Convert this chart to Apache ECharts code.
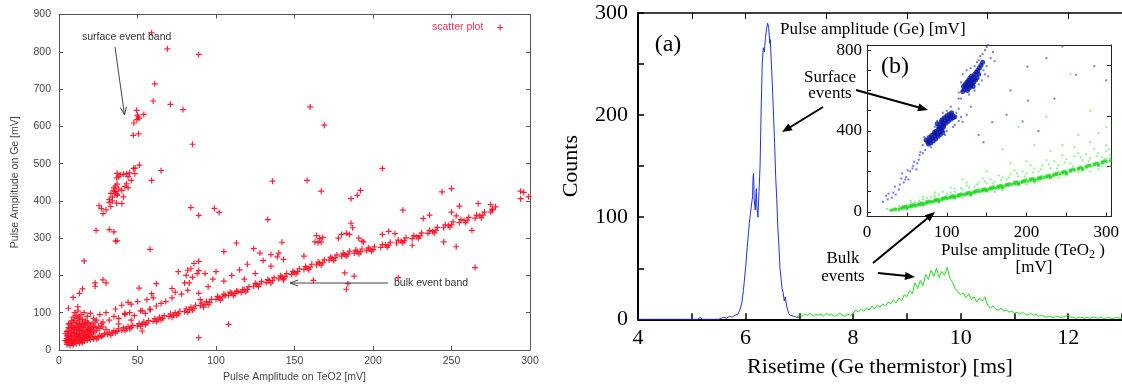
<!DOCTYPE html>
<html><head><meta charset="utf-8">
<script src="https://cdn.jsdelivr.net/npm/echarts@6/dist/echarts.min.js"></script>
<style>html,body{margin:0;padding:0;background:#fff}#c{width:1122px;height:388px}</style>
</head><body><div id="c"></div>
<script>
// ---------- LEFT PANEL: scatter (Pulse amplitude Ge vs TeO2) ----------
const leftXTicks = [0, 50, 100, 150, 200, 250, 300];
const leftYTicks = [0, 100, 200, 300, 400, 500, 600, 700, 800, 900];
const bulkBand = [[8,20],[9,14],[10,22],[11,17],[12,25],[13,19],[14,22],[15,28],[16,24],[17,31],[18,26],[19,33],[20,28],[21,35],[22,30],[23,36],[25,33],[26,40],[28,38],[29,44],[31,42],[32,48],[34,45],[35,52],[37,50],[38,57],[40,53],[41,60],[43,57],[44,63],[46,60],[47,66],[50,64],[51,71],[53,69],[54,75],[56,72],[57,79],[60,77],[61,84],[63,81],[64,88],[66,85],[67,92],[70,90],[71,97],[73,93],[74,100],[76,97],[77,104],[80,103],[81,110],[83,108],[84,115],[86,112],[87,120],[90,119],[91,126],[93,122],[94,130],[96,128],[97,136],[100,136],[101,144],[104,142],[105,150],[108,147],[109,155],[112,151],[113,158],[116,154],[117,162],[120,162],[121,170],[124,171],[125,179],[128,177],[129,184],[132,181],[133,189],[136,186],[137,194],[140,191],[141,199],[144,197],[145,205],[148,203],[149,211],[152,210],[153,218],[156,216],[157,224],[160,222],[161,230],[164,228],[165,236],[168,234],[169,242],[172,241],[173,249],[176,247],[177,255],[180,252],[181,260],[184,257],[185,265],[188,260],[189,268],[192,263],[193,271],[196,266],[197,274],[200,269],[201,277],[205,275],[206,283],[210,281],[211,289],[215,287],[216,295],[220,293],[221,301],[225,299],[226,307],[230,306],[231,314],[235,313],[236,321],[240,321],[241,329],[245,328],[246,336],[250,336],[251,344],[255,342],[256,350],[260,348],[261,356],[265,354],[266,362],[270,362],[271,370],[275,370],[276,378],[278,384],
 [102,140],[106,146],[110,152],[114,157],[118,162],[126,176],[134,186],[142,196],[150,208],[158,220],[166,233],[174,246],[182,256],[190,264],[198,271],[208,282],[218,292],[228,304],[238,318],[248,334],[258,348],[268,360],
 [103,134],[111,146],[119,156],[127,170],[135,180],[143,192],[151,204],[159,216],[167,228],[175,240],[183,252],[191,258],[199,265],[209,276],[219,288],[229,300],[239,314],[249,330],[259,342],[269,355],
 [15,20],[24,30],[33,40],[42,52],[52,64],[62,76],[72,88],[82,101],[92,115],[27,36],[36,46],[45,57],[55,68],[65,81],[75,93],[85,107],[95,121]];
const lowCluster = [[5,15],[6,20],[7,12],[8,25],[5,30],[6,40],[7,35],[8,50],[9,45],[10,60],[11,55],[12,70],[13,65],[14,50],[15,40],[16,55],[17,45],[18,60],[19,50],[20,40],[9,30],[10,38],[11,28],[12,42],[13,33],[14,38],[15,30],[16,36],[5,50],[6,60],[7,70],[8,65],[9,75],[10,80],[11,72],[12,85],[13,78],[14,68],[15,62],[16,70],[17,66],[18,74],[19,58],[20,65],[21,55],[22,48],[23,60],[24,52],[6,28],[7,45],[8,38],[9,55],[10,48],[11,44],[12,56],[13,52],[14,60],[4,25],[5,38],[6,50],[7,58],[8,78],[9,88],[11,92],[13,88],[15,82],[17,78],[19,72],[21,70],[23,75],[25,64],[26,58],[28,62],[30,55],[27,70],[24,80],[22,85],[18,90],[14,95],[10,100],[16,100],[12,105],[20,98],
 [6,34],[7,24],[8,44],[9,62],[10,30],[11,64],[12,35],[13,44],[14,28],[15,50],[16,46],[17,38],[18,52],[19,42],[20,56],[21,46],[22,62],[5,22],[4,45],[6,70],[9,18],[11,36],[15,72],[18,36],
 [28,75],[32,80],[35,90],[38,85],[42,95],[45,100],[48,92],[52,105],[55,98],[58,110],[62,118],[65,125],[30,100],[26,95],[36,110],[40,120],[44,128],[50,130],[56,135],[60,140],[68,130],[72,140],[78,150],[82,160],[38,70],[46,80]];
const surfaceBand = [[49.5,643],[50,630],[54,632],[49.6,618],[50.5,625],[51,622],[47.7,609],[47.3,576],[50.7,580],[51.2,496],[47.5,487],[48.5,488],[48.3,473],[37,474],[39,470],[41,472],[43,473],[45,475],[36.7,462],[38,465],[36,440],[37,445],[38,432],[40,428],[42,438],[44,435],[35,428],[36,420],[37,415],[35.7,425],[35,435],[34,410],[33,420],[41,411],[40,393],[36.7,394],[32,396],[32,404],[30,376],[28,366],[25.5,387],[27,380],[33,385],[34,400],[37,418],[43,446],[46,455],[44,465],[32,323],[35,317],[36,292],[23.6,321]];
const outliers = [[59,851],[69,808],[89,793],[61,714],[60,668],[71,659],[79,645],[85,552],[65,481],[59,455],[136,453],[160,652],[169,603],[206,487],[158,455],[167,426],[186,406],[190,415],[192,428],[244,424],[250,433],[294,426],[294,406],[299,411],[296,423],
 [84,382],[89,361],[99,380],[102,369],[133,350],[113,287],[124,272],[105,264],[108,69],[89,33],[53,51],[62,178],[59,151],[51,166],[81,200],[84,218],[89,213],[93,205],[58,270],[37,293],[16,239],[28,188],[30,180],[23,180],[23,171],[9,141],[13,152],[12,116],[15,164],[6,112],[42,98],[46,123],[53,105],[58,108],[86,232],[89,238],[82,214],[88,205],
 [267,393],[275,390],[276,375],[255,386],[250,370],[253,360],[219,375],[236,362],[232,353],[263,321],[245,290],[253,277],[265,221],[225,281],[206,310],[210,318],[214,312],[191,300],[193,292],[194,290],[186,340],[187,328],[180,310],[183,313],[185,310],[178,300],[164,307],[166,299],[168,302],[163,290],[165,288],[167,290],[156,252],[142,289],[135,256],[139,250],[143,243],[162,187],[182,207],[188,198],[184,178],[216,194],[143,188],[183,163],
 [110,200],[115,215],[120,230],[125,205],[130,240],[118,190],[135,225],[128,260],[105,185],[140,260],[72,165],[74,155],[80,180],[83,180],[89,152],[90,135],[95,170],[98,190],[100,210],[76,210],[85,195]];

// ---------- RIGHT PANEL: risetime histograms ----------
const mainXLabels = [4, 6, 8, 10, 12];
const mainYLabels = [0, 100, 200, 300];
const blueX = [4.0,4.5,5.0,5.12,5.15,5.2,5.5,5.55,5.6,5.65,5.7,5.75,5.8,5.83,5.86,5.9,5.93,5.96,6.0,6.03,6.07,6.1,6.13,6.14,6.15,6.16,6.18,6.2,6.21,6.23,6.25,6.27,6.29,6.31,6.33,6.35,6.37,6.39,6.41,6.43,6.45,6.46,6.48,6.5,6.52,6.54,6.56,6.58,6.6,6.62,6.64,6.66,6.68,6.7,6.72,6.74,6.76,6.78,6.8,6.83,6.86,6.9,6.95,7.0];
const blueY = [0,0,0,0,2,0,0,1,2,1,3,2,4,3,5,10,16,28,50,70,94,108,120,140,143,118,107,128,110,100,125,150,205,250,266,262,276,284,290,286,270,274,250,228,200,173,140,118,90,72,50,40,30,26,18,22,14,10,6,4,5,3,2,2];
const greenStart = 6.95, greenBin = 0.05;
const greenY = [2,4,3,5,4,6,3,5,4,5,3,6,4,5,3,4,6,4,3,5,4,
 6,9,7,10,8,11,9,13,10,14,12,15,13,17,15,19,16,21,18,24,
 22,28,25,36,30,38,33,44,39,48,42,50,41,47,43,51,40,36,30,27,
 24,26,21,25,19,22,17,21,18,22,14,11,13,10,9,11,8,9,7,8,
 6,7,5,7,5,4,6,4,5,3,4,3,2,3,2,2,3,2,2,3,
 4,2,2,1,2,2,1,2,1,2,2,1,2,1,1,2,1,1,2,1,1];

// ---------- INSET: Ge vs TeO2 amplitude ----------
const insetXLabels = [0, 100, 200, 300];
const insetYLabels = [0, 400, 800];
const blueCore = [[122,605],[124,615],[126,625],[128,635],[130,645],[132,655],[134,665],[121,620],[123,630],[125,640],[127,650],[129,660],[131,670],[126,600],[128,612],[130,622],[132,632],[134,642],[136,652],[138,662],[135,680],[137,690],[139,700],[141,712],[143,725],[145,740],[140,680],[133,620],[120,595],[129,648],
 [92,430],[95,440],[98,450],[101,460],[104,470],[107,478],[94,455],[97,465],[100,475],[103,482],[90,420],[96,428],[99,438],[102,448],[105,458],[108,465],[93,445],[106,490],[110,470],[88,435],
 [76,345],[79,355],[82,365],[85,375],[88,385],[91,395],[94,405],[78,368],[81,378],[84,388],[87,398],[90,410],[80,340],[83,350],[86,360],[89,372],[92,382],[95,392],[74,355],[77,335],[85,395],[93,415],[96,420]];
const blueScatter = [[20,50],[26,62],[27,90],[33,95],[35,125],[41,135],[43,165],[49,172],[51,205],[57,215],[59,248],[65,258],[67,295],[73,305],[36,85],[46,145],[54,200],[63,240],[70,290],[31,70],[48,160],[66,280],[58,228],[24,80],[40,110],[52,160],[62,210],[44,190],
 [70,330],[80,320],[100,400],[110,430],[112,490],[115,510],[105,520],[95,490],[118,470],[120,445],[88,450],[85,420],[98,380],[108,420],[115,450],[72,370],[100,500],[125,480],[130,520],[115,560],
 [115,590],[118,640],[120,680],[125,700],[130,710],[135,720],[140,750],[145,780],[148,800],[150,815],[152,825],[142,770],[138,740],[146,700],[150,720],[155,760],[144,650],[148,680],[140,630],[135,600],[128,580],[118,560],[158,790],[160,745],[152,670],
 [162,828],[201,718],[225,760],[245,818],[262,678],[157,443],[195,447],[146,344],[202,550],[180,600],[235,560],[285,720],[300,650],[175,480],[215,400],[140,380]];
const greenCore = [[30,8],[33,10],[36,12],[40,14],[43,17],[46,19],[50,22],[53,26],[56,27],[60,31],[63,33],[66,36],[70,40],[73,42],[76,45],[80,49],[83,50],[86,54],[90,58],[93,60],[96,63],[100,66],[103,70],[106,71],[110,75],[113,78],[116,80],[120,84],[123,86],[126,89],[130,92],[133,95],[136,97],[140,101],[143,103],[146,106],[150,109],[153,112],[156,114],[160,117],[163,120],[166,122],[170,125],[174,129],[178,132],[182,135],[186,139],[190,142],[194,146],[198,149],[202,152],[206,156],[210,159],[214,162],[218,165],[222,169],[226,172],[230,176],[234,180],[238,184],[242,188],[246,192],[250,196],[255,201],[260,206],[265,211],[270,216],[275,221],[280,227],[285,232],[290,237],[295,242],[300,248],[305,253],
 [45,24],[55,31],[65,40],[75,50],[85,58],[95,68],[105,76],[115,85],[125,94],[135,102],[145,111],[155,119],[165,128],[175,135],[185,145],[195,152],[205,162],[215,168],[225,177],[235,187],[245,197],[255,206],[265,216],[275,226],[285,237],[295,247],
 [50,16],[70,34],[90,52],[110,69],[130,86],[150,103],[170,119],[190,136],[210,153],[230,170],[250,189],[270,209],[290,230],
 [48,27],[58,35],[68,44],[78,53],[88,62],[98,71],[108,80],[118,88],[128,97],[138,105],[148,114],[158,122],[168,131],[178,139],[188,148],[198,156],[208,165],[218,172],[228,181],[238,190],[248,200],[258,210],[268,220],[278,230],[288,241],[298,251]];
const greenDiffuse = [[40,30],[55,45],[60,50],[70,62],[80,75],[90,85],[95,100],[105,95],[110,115],[120,110],[125,130],[135,125],[140,145],[150,140],[155,160],[160,150],[170,170],[175,160],[180,185],[190,175],[195,200],[200,190],[210,215],[215,200],[220,230],[230,215],[235,250],[240,230],[250,260],[255,240],[260,275],[270,255],[275,285],[280,265],[290,290],[295,270],[300,300],[305,280],[200,250],[230,300],[260,320],[280,345],[300,330],[180,240],[150,200],[120,160],[170,310],[245,330],[210,330],[265,380],[290,390],[190,420],[225,470],[280,500],[300,420],[255,680],[120,90],[85,70],[60,40],[35,20],[25,15],[45,25],[75,48],[115,80],[165,112],[215,150],[265,195],[295,225],
 [60,22],[90,45],[130,78],[170,108],[210,143],[250,178],[290,210],[40,5],[80,40],[120,70],[160,98],[200,135],[240,168],[280,200],[305,228],
 [50,35],[65,55],[75,70],[85,80],[100,90],[110,100],[118,118],[128,120],[138,135],[148,150],[158,140],[168,155],[178,170],[188,190],[198,175],[208,195],[218,210],[228,235],[238,215],[248,245],[258,225],[268,270],[278,250],[288,275],[298,260],[303,310],[285,310],[265,290],[245,280],[225,255],[205,230],[185,205],[165,180],[145,165],[125,145],[105,120],[85,95],[70,75],[55,55],[100,75],[140,110],[180,140],[220,180],[260,215],[300,262],[305,265],[60,35],[80,55],[100,80],[140,115],[160,130],[200,165],[240,200],[280,235]];

// ---------- build ----------
const SANS = 'Liberation Sans', SERIF = 'Liberation Serif';
const plusPath = 'path://M2,0L3,0L3,2L5,2L5,3L3,3L3,5L2,5L2,3L0,3L0,2L2,2Z';
const leftAll = [].concat(bulkBand, lowCluster, surfaceBand, outliers);
const blueData = blueX.map((x, i) => [x, blueY[i]]);
const greenData = greenY.map((y, i) => [+(greenStart + i * greenBin).toFixed(3), y]);
const rng = (a, b, s) => { const r = []; for (let v = a; v <= b + 1e-9; v += s) r.push(+v.toFixed(3)); return r; };

const chart = echarts.init(document.getElementById('c'), null, {renderer: 'canvas'});
const noSplit = {splitLine: {show: false}, minorSplitLine: {show: false}};
const greyLine = {show: true, onZero: false, lineStyle: {color: '#555', width: 1}};
const blackLine = w => ({show: true, onZero: false, lineStyle: {color: '#000', width: w}});

chart.setOption({
  animation: false,
  backgroundColor: '#fff',
  grid: [
    {left: 59, top: 14.5, width: 471, height: 335.5},
    {left: 638, top: 13, width: 486, height: 306.3},
    {left: 867, top: 45, width: 251, height: 171.5, show: true, backgroundColor: '#fff', borderWidth: 0}
  ],
  xAxis: [
    Object.assign({gridIndex: 0, type: 'value', min: 0, max: 300, interval: 50, position: 'bottom',
      axisLine: greyLine, axisTick: {inside: true, length: 4, lineStyle: {color: '#555'}},
      axisLabel: {fontFamily: SANS, fontSize: 10.5, color: '#444', margin: 6, customValues: leftXTicks},
      name: 'Pulse Amplitude on TeO2 [mV]', nameLocation: 'middle', nameGap: 21,
      nameTextStyle: {fontFamily: SANS, fontSize: 10.5, color: '#444'}}, noSplit),
    Object.assign({gridIndex: 0, type: 'value', min: 0, max: 300, interval: 50, position: 'top',
      axisLine: greyLine, axisTick: {inside: true, length: 4, lineStyle: {color: '#555'}}, axisLabel: {show: false}}, noSplit),
    Object.assign({gridIndex: 1, type: 'value', min: 4, max: 13, interval: 1, position: 'bottom',
      axisLine: blackLine(2), axisTick: {inside: true, length: 6, lineStyle: {color: '#000', width: 1.5}},
      axisLabel: {fontFamily: SERIF, fontSize: 22, color: '#000', margin: 8, customValues: mainXLabels},
      name: 'Risetime (Ge thermistor) [ms]', nameLocation: 'middle', nameGap: 37,
      nameTextStyle: {fontFamily: SERIF, fontSize: 22, color: '#000'}}, noSplit),
    Object.assign({gridIndex: 1, type: 'value', min: 4, max: 13, position: 'top',
      axisLine: blackLine(1.5), axisTick: {inside: true, length: 6, customValues: [5, 6, 7.5, 9, 10.5, 12], lineStyle: {color: '#000'}},
      axisLabel: {show: false}}, noSplit),
    Object.assign({gridIndex: 2, type: 'value', min: 0, max: 306, position: 'bottom',
      axisLine: {show: true, onZero: false, lineStyle: {color: '#222', width: 1}},
      axisTick: {inside: true, length: 4, customValues: rng(0, 300, 50), lineStyle: {color: '#222'}},
      axisLabel: {fontFamily: SERIF, fontSize: 17, color: '#000', margin: 8, customValues: insetXLabels}}, noSplit),
    Object.assign({gridIndex: 2, type: 'value', min: 0, max: 306, position: 'top',
      axisLine: {show: true, onZero: false, lineStyle: {color: '#222', width: 1}}, axisTick: {show: false}, axisLabel: {show: false}}, noSplit)
  ],
  yAxis: [
    Object.assign({gridIndex: 0, type: 'value', min: 0, max: 900, interval: 100, position: 'left',
      axisLine: greyLine, axisTick: {inside: true, length: 4, lineStyle: {color: '#555'}},
      axisLabel: {fontFamily: SANS, fontSize: 10.5, color: '#444', margin: 8, customValues: leftYTicks},
      name: 'Pulse Amplitude on Ge [mV]', nameLocation: 'middle', nameGap: 38,
      nameTextStyle: {fontFamily: SANS, fontSize: 10.5, color: '#444'}}, noSplit),
    Object.assign({gridIndex: 0, type: 'value', min: 0, max: 900, interval: 100, position: 'right',
      axisLine: greyLine, axisTick: {inside: true, length: 4, lineStyle: {color: '#555'}}, axisLabel: {show: false}}, noSplit),
    Object.assign({gridIndex: 1, type: 'value', min: 0, max: 300, interval: 50, position: 'left',
      axisLine: blackLine(2), axisTick: {inside: true, length: 6, lineStyle: {color: '#000', width: 1.5}},
      axisLabel: {fontFamily: SERIF, fontSize: 22, color: '#000', margin: 10, customValues: mainYLabels},
      name: 'Counts', nameLocation: 'middle', nameGap: 56,
      nameTextStyle: {fontFamily: SERIF, fontSize: 22, color: '#000'}}, noSplit),
    Object.assign({gridIndex: 2, type: 'value', min: -23, max: 825, position: 'left',
      axisLine: {show: true, onZero: false, lineStyle: {color: '#222', width: 1}},
      axisTick: {inside: true, length: 4, customValues: rng(0, 800, 100), lineStyle: {color: '#222'}},
      axisLabel: {fontFamily: SERIF, fontSize: 17, color: '#000', margin: 5, customValues: insetYLabels}}, noSplit),
    Object.assign({gridIndex: 2, type: 'value', min: -23, max: 825, position: 'right',
      axisLine: {show: true, onZero: false, lineStyle: {color: '#222', width: 1}},
      axisTick: {inside: true, length: 4, customValues: [225, 475, 725], lineStyle: {color: '#222'}}, axisLabel: {show: false}}, noSplit)
  ],
  legend: {
    data: [{name: 'scatter plot', icon: plusPath}], left: 427, top: 17, align: 'right', selectedMode: false,
    itemWidth: 6, itemHeight: 6, formatter: n => n + '   ',
    textStyle: {color: '#ff3050', fontFamily: SANS, fontSize: 10.5}
  },
  series: [
    {name: 'scatter plot', type: 'scatter', xAxisIndex: 0, yAxisIndex: 0, data: leftAll, symbol: plusPath, symbolSize: 6,
      itemStyle: {color: '#ff0a1e', opacity: 0.9}, silent: true},
    {name: 'blue', type: 'line', xAxisIndex: 2, yAxisIndex: 2, data: blueData, showSymbol: false,
      lineStyle: {color: '#2233dd', width: 1}, silent: true},
    {name: 'green', type: 'line', xAxisIndex: 2, yAxisIndex: 2, data: greenData, showSymbol: false,
      lineStyle: {color: '#22dd22', width: 1}, silent: true},
    {name: 'gd', type: 'scatter', xAxisIndex: 4, yAxisIndex: 3, data: greenDiffuse, symbol: 'rect', symbolSize: 2,
      itemStyle: {color: '#80f080', opacity: 0.85}, silent: true},
    {name: 'gc', type: 'scatter', xAxisIndex: 4, yAxisIndex: 3, data: greenCore, symbol: 'rect', symbolSize: 3,
      itemStyle: {color: '#18d818'}, silent: true},
    {name: 'bs', type: 'scatter', xAxisIndex: 4, yAxisIndex: 3, data: blueScatter, symbol: 'rect', symbolSize: 2,
      itemStyle: {color: '#4050ee', opacity: 0.75}, silent: true},
    {name: 'bc', type: 'scatter', xAxisIndex: 4, yAxisIndex: 3, data: blueCore, symbol: 'circle', symbolSize: 5,
      itemStyle: {color: '#0818a8'}, silent: true}
  ],
  graphic: [
    {type: 'text', x: 82, y: 37, z: 100, style: {text: 'surface event band', fill: '#333', font: '10.5px "Liberation Sans"', verticalAlign: 'middle'}},
    {type: 'line', z: 100, shape: {x1: 115, y1: 47, x2: 124.5, y2: 115}, style: {stroke: '#444', lineWidth: 1}},
    {type: 'polyline', z: 100, shape: {points: [[126.4, 106.7], [124.5, 115], [120.4, 107.5]]}, style: {stroke: '#444', fill: null, lineWidth: 1}},
    {type: 'text', x: 394, y: 283, z: 100, style: {text: 'bulk event band', fill: '#333', font: '10.5px "Liberation Sans"', verticalAlign: 'middle'}},
    {type: 'line', z: 100, shape: {x1: 388, y1: 283, x2: 290, y2: 283}, style: {stroke: '#444', lineWidth: 1}},
    {type: 'polyline', z: 100, shape: {points: [[298, 280], [290, 283], [298, 286]]}, style: {stroke: '#444', fill: null, lineWidth: 1}},
    {type: 'text', x: 668, y: 45, z: 100, style: {text: '(a)', fill: '#000', font: '24px "Liberation Serif"', align: 'center', verticalAlign: 'middle'}},
    {type: 'text', x: 895, y: 67, z: 100, style: {text: '(b)', fill: '#000', font: '24px "Liberation Serif"', align: 'center', verticalAlign: 'middle'}},
    {type: 'text', x: 780, y: 30, z: 100, style: {text: 'Pulse amplitude (Ge) [mV]', fill: '#000', font: '17px "Liberation Serif"', verticalAlign: 'middle'}},
    {type: 'text', x: 830, y: 78, z: 100, style: {text: 'Surface', fill: '#000', font: '17px "Liberation Serif"', align: 'center', verticalAlign: 'middle'}},
    {type: 'text', x: 830, y: 94, z: 100, style: {text: 'events', fill: '#000', font: '17px "Liberation Serif"', align: 'center', verticalAlign: 'middle'}},
    {type: 'text', x: 843, y: 259, z: 100, style: {text: 'Bulk', fill: '#000', font: '17px "Liberation Serif"', align: 'center', verticalAlign: 'middle'}},
    {type: 'text', x: 843, y: 277, z: 100, style: {text: 'events', fill: '#000', font: '17px "Liberation Serif"', align: 'center', verticalAlign: 'middle'}},
    {type: 'text', x: 1023, y: 251, z: 100, style: {text: 'Pulse amplitude (TeO{s|2} )', fill: '#000', font: '17px "Liberation Serif"', align: 'center', verticalAlign: 'middle',
      rich: {s: {fontSize: 12, fontFamily: SERIF, padding: [8, 0, 0, 0]}}}},
    {type: 'text', x: 1034, y: 268, z: 100, style: {text: '[mV]', fill: '#000', font: '17px "Liberation Serif"', align: 'center', verticalAlign: 'middle'}},
    {type: 'line', z: 100, shape: {x1: 823, y1: 107, x2: 788, y2: 128.5}, style: {stroke: '#000', lineWidth: 2}},
    {type: 'polygon', z: 100, shape: {points: [[782, 132], [792.6, 130.2], [788.4, 123.4]]}, style: {fill: '#000'}},
    {type: 'line', z: 100, shape: {x1: 856, y1: 90, x2: 920, y2: 107.8}, style: {stroke: '#000', lineWidth: 2}},
    {type: 'polygon', z: 100, shape: {points: [[928, 110], [917.3, 111.2], [919.4, 103.5]]}, style: {fill: '#000'}},
    {type: 'line', z: 100, shape: {x1: 873, y1: 263, x2: 929, y2: 217}, style: {stroke: '#000', lineWidth: 2}},
    {type: 'polygon', z: 100, shape: {points: [[935, 212], [929.8, 221.5], [924.7, 215.3]]}, style: {fill: '#000'}},
    {type: 'line', z: 100, shape: {x1: 878, y1: 273, x2: 907, y2: 276.1}, style: {stroke: '#000', lineWidth: 2}},
    {type: 'polygon', z: 100, shape: {points: [[915, 277], [904.6, 279.9], [905.5, 271.9]]}, style: {fill: '#000'}}
  ]
});
</script></body></html>
